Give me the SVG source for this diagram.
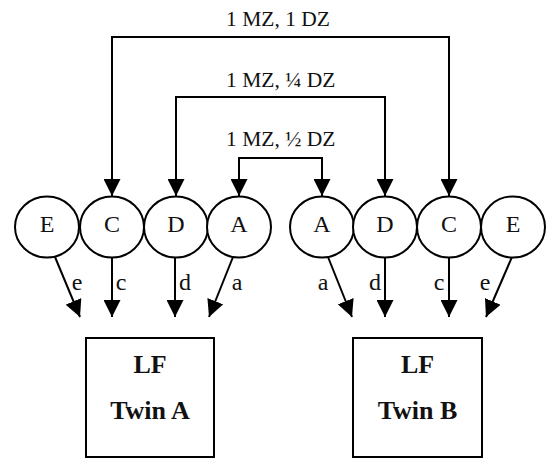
<svg xmlns="http://www.w3.org/2000/svg" width="546" height="459" viewBox="0 0 546 459">
  <style>
    .node ellipse { fill: #fff; stroke: #000; stroke-width: 2; }
    .node text { font-family: "Liberation Serif", "Times New Roman", serif; font-size: 24px; text-anchor: middle; fill: #111; }
    .box rect { fill: #fff; stroke: #000; stroke-width: 2; }
    .box text { font-family: "Liberation Serif", "Times New Roman", serif; font-size: 26px; font-weight: bold; text-anchor: middle; fill: #111; }
    .edges path, .edges line { fill: none; stroke: #000; stroke-width: 2; }
    .lbl { font-family: "Liberation Serif", "Times New Roman", serif; font-size: 21.5px; fill: #111; }
    .elbl { font-family: "Liberation Serif", "Times New Roman", serif; font-size: 24px; fill: #111; text-anchor: middle; }
  </style>
  <defs>
    <marker id="arrow" markerUnits="userSpaceOnUse" markerWidth="17" markerHeight="17" viewBox="0 0 17 17" refX="17" refY="8.5" orient="auto">
      <path d="M0,0 L17,8.5 L0,17 z" fill="#000"/>
    </marker>
  </defs>
  <rect width="546" height="459" fill="#fff"/>

  <!-- correlation paths between twins' latent factors -->
  <g id="connectors" class="edges">
    <path d="M112,196 V37 H449 V196" marker-end="url(#arrow)"/>
    <line x1="112" y1="37" x2="112" y2="196" marker-end="url(#arrow)"/>
    <path d="M176,196 V97 H385 V196" marker-end="url(#arrow)"/>
    <line x1="176" y1="97" x2="176" y2="196" marker-end="url(#arrow)"/>
    <path d="M239,196 V158 H322 V196" marker-end="url(#arrow)"/>
    <line x1="239" y1="158" x2="239" y2="196" marker-end="url(#arrow)"/>

    <!-- loadings onto twin A -->
    <line x1="55" y1="257" x2="80" y2="317" marker-end="url(#arrow)"/>
    <line x1="112" y1="257" x2="112" y2="317" marker-end="url(#arrow)"/>
    <line x1="175" y1="257" x2="175" y2="317" marker-end="url(#arrow)"/>
    <line x1="233" y1="257" x2="209" y2="317" marker-end="url(#arrow)"/>
    <!-- loadings onto twin B -->
    <line x1="328" y1="257" x2="352" y2="317" marker-end="url(#arrow)"/>
    <line x1="385" y1="257" x2="385" y2="317" marker-end="url(#arrow)"/>
    <line x1="449" y1="257" x2="449" y2="317" marker-end="url(#arrow)"/>
    <line x1="512" y1="257" x2="486" y2="317" marker-end="url(#arrow)"/>

    <text class="lbl" x="226" y="26">1 MZ, 1 DZ</text>
    <text class="lbl" x="226" y="87">1 MZ, ¼ DZ</text>
    <text class="lbl" x="226" y="146">1 MZ, ½ DZ</text>

    <text class="elbl" x="77" y="290">e</text>
    <text class="elbl" x="121" y="290">c</text>
    <text class="elbl" x="185" y="290">d</text>
    <text class="elbl" x="237" y="290">a</text>
    <text class="elbl" x="323" y="290">a</text>
    <text class="elbl" x="375" y="290">d</text>
    <text class="elbl" x="439" y="290">c</text>
    <text class="elbl" x="485" y="290">e</text>
  </g>

  <!-- twin A latent factors -->
  <g id="E1" class="node"><ellipse cx="47" cy="227" rx="32" ry="30.5"/><text x="47" y="232">E</text></g>
  <g id="C1" class="node"><ellipse cx="112" cy="227" rx="32" ry="30.5"/><text x="112" y="232">C</text></g>
  <g id="D1" class="node"><ellipse cx="176" cy="227" rx="32" ry="30.5"/><text x="176" y="232">D</text></g>
  <g id="A1" class="node"><ellipse cx="239" cy="227" rx="32" ry="30.5"/><text x="239" y="232">A</text></g>
  <!-- twin B latent factors -->
  <g id="A2" class="node"><ellipse cx="322" cy="227" rx="32" ry="30.5"/><text x="322" y="232">A</text></g>
  <g id="D2" class="node"><ellipse cx="385" cy="227" rx="32" ry="30.5"/><text x="385" y="232">D</text></g>
  <g id="C2" class="node"><ellipse cx="449" cy="227" rx="32" ry="30.5"/><text x="449" y="232">C</text></g>
  <g id="E2" class="node"><ellipse cx="513" cy="227" rx="32" ry="30.5"/><text x="513" y="232">E</text></g>

  <!-- observed phenotypes -->
  <g id="twinA" class="box">
    <rect x="86" y="338" width="128" height="119"/>
    <text x="150" y="373">LF</text>
    <text x="150" y="419">Twin A</text>
  </g>
  <g id="twinB" class="box">
    <rect x="353" y="338" width="129" height="119"/>
    <text x="417.5" y="373">LF</text>
    <text x="417.5" y="419">Twin B</text>
  </g>
</svg>
